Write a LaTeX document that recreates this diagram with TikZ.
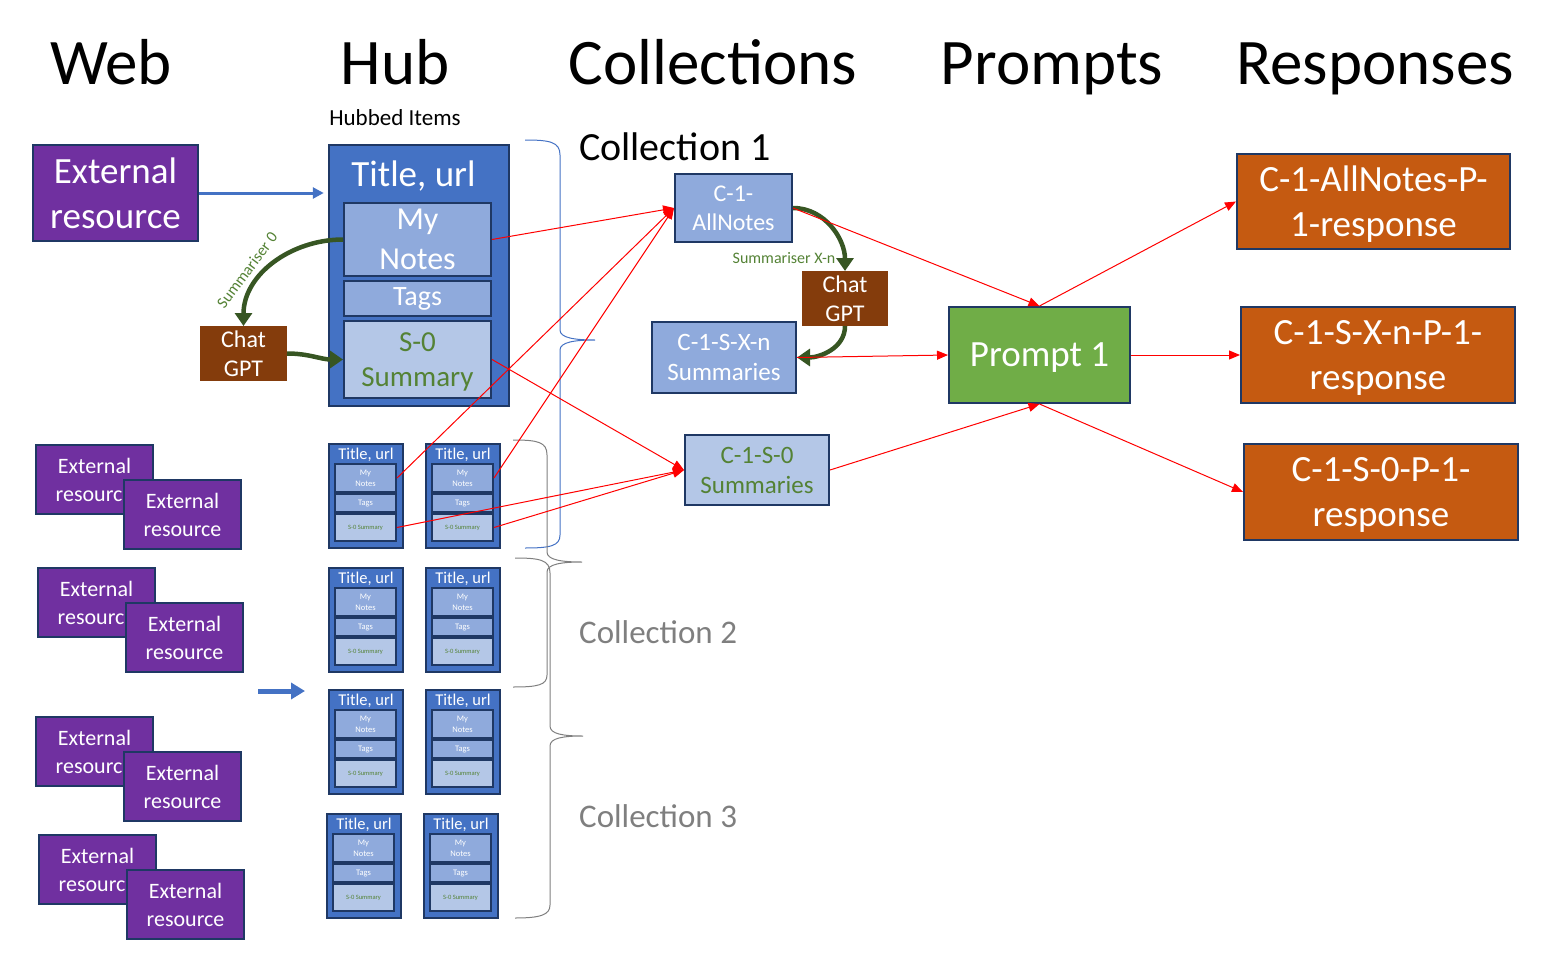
\documentclass[tikz,border=0pt]{standalone}
\usepackage{fontspec}
\setmainfont{Carlito}
\usetikzlibrary{arrows.meta}

\definecolor{extpurple}{HTML}{7030A0}
\definecolor{edgenavy}{HTML}{1F3864}
\definecolor{hubblue}{HTML}{4472C4}
\definecolor{notesblue}{HTML}{8FAADC}
\definecolor{sumblue}{HTML}{B4C7E7}
\definecolor{sumgreen}{HTML}{548235}
\definecolor{gptgreen}{HTML}{375623}
\definecolor{gptbrown}{HTML}{843C0C}
\definecolor{promptgreen}{HTML}{70AD47}
\definecolor{resporange}{HTML}{C55A11}
\definecolor{collgrey}{HTML}{7F7F7F}

\tikzset{
  box/.style={draw=edgenavy, line width=2pt, inner sep=0pt, align=center, text=white},
  heading/.style={font=\fontsize{65}{78}\selectfont, anchor=base},
  extbox/.style={box, fill=extpurple, minimum width=165, minimum height=96,
    font=\fontsize{37}{45}\selectfont},
  extsmall/.style={box, fill=extpurple, minimum width=117, minimum height=69,
    font=\fontsize{22}{28}\selectfont},
  hubbox/.style={box, fill=hubblue, line width=2.5pt},
  notesbox/.style={box, fill=notesblue},
  sumbox/.style={box, fill=sumblue, text=sumgreen},
  gptbox/.style={box, draw=gptbrown, fill=gptbrown, font=\fontsize{24}{29}\selectfont},
  collbox/.style={box, font=\fontsize{25}{30}\selectfont},
  promptbox/.style={box, fill=promptgreen, text depth=0pt, font=\fontsize{37}{45}\selectfont},
  respbox/.style={box, fill=resporange, text depth=0pt, font=\fontsize{37}{45}\selectfont},
  minihub/.style={box, fill=hubblue, line width=2.5pt, minimum width=74, minimum height=104},
  mininotes/.style={box, fill=notesblue, minimum width=61, minimum height=28,
    font=\fontsize{8.5}{11}\selectfont},
  minitags/.style={box, fill=notesblue, minimum width=61, minimum height=18,
    font=\fontsize{8.5}{10}\selectfont},
  minisum/.style={box, fill=sumblue, text=sumgreen, minimum width=61, minimum height=27,
    font=\fontsize{6.5}{8}\selectfont},
  redline/.style={draw=red, line width=1pt, -{Triangle[length=11pt,width=9pt]}},
  gptarrow/.style={draw=gptgreen, line width=4.5pt, -{Triangle[length=13pt,width=17pt]}},
  bluearrow/.style={draw=hubblue, line width=3pt, -{Triangle[length=11pt,width=11pt]}},
  bracket/.style={line width=1pt}
}

\begin{document}
\begin{tikzpicture}[x=1pt,y=1pt]
  \useasboundingbox (0,0) rectangle (1557,-955);

  \node[heading] (web) at (111,-85) {Web};
  \node[heading] (hubhead) at (395,-85) {Hub};
  \node[heading] (collhead) at (713,-85) {Collections};
  \node[heading] (prompthead) at (1052,-85) {Prompts};
  \node[heading] (resphead) at (1375,-85) {Responses};
  \node[anchor=base, font=\fontsize{23}{28}\selectfont] (hubbed) at (395,-125) {Hubbed Items};

  % web side
  \node[extbox] (ext) at (115.5,-193) {External\\resource};
  \foreach \x/\y/\n in {36/445/1,38/568/2,36/717/3,39/835/4} {
    \node[extsmall] (ext\n-back) at (\x+58.5,-\y-34.5) {External\\resource};
    \node[extsmall] (ext\n-front) at (\x+146.5,-\y-69.5) {External\\resource};
  }

  % hub
  \node[hubbox, minimum width=180, minimum height=261] (hub) at (419,-275.5) {};
  \node[anchor=base, text=white, font=\fontsize{37}{45}\selectfont] (hubtitle) at (413.5,-186) {Title, url};
  \node[notesbox, minimum width=147, minimum height=73, font=\fontsize{32}{40}\selectfont]
    (notes) at (417.5,-239.5) {My\\Notes};
  \node[notesbox, minimum width=147, minimum height=35, font=\fontsize{28}{34}\selectfont]
    (tags) at (417.5,-298.5) {Tags};
  \node[sumbox, minimum width=147, minimum height=77, text depth=0pt, font=\fontsize{29}{35}\selectfont]
    (sum0) at (417.5,-359.5) {S-0\\Summary};
  \node[gptbox, minimum width=85, minimum height=53] (chat1) at (243.5,-353.5) {Chat\\GPT};

  \foreach \x/\y/\n in {329/444/a,426/444/b,329/568/c,426/568/d,329/690/e,426/690/f,327/814/g,424/814/h} {
    \node[minihub] (\n) at (\x+37,-\y-52) {};
    \node[text=white, font=\fontsize{16.5}{20}\selectfont] (\n-title) at (\x+37,-\y-10.5) {Title, url};
    \node[mininotes] (\n-notes) at (\x+36.5,-\y-34) {My\\Notes};
    \node[minitags] (\n-tags) at (\x+36.5,-\y-59) {Tags};
    \node[minisum] (\n-sum) at (\x+36.5,-\y-83.5) {S-0 Summary};
  }

  \coordinate (arrowfrom) at (258,-691);
  \coordinate (arrowto) at (305,-691);

  % collections
  \node[anchor=base west, inner sep=0pt, font=\fontsize{40}{48}\selectfont] (coll1) at (579,-160) {Collection 1};
  \node[anchor=base west, inner sep=0pt, text=collgrey, font=\fontsize{33}{40}\selectfont] (coll2) at (579,-643) {Collection 2};
  \node[anchor=base west, inner sep=0pt, text=collgrey, font=\fontsize{33}{40}\selectfont] (coll3) at (579,-827) {Collection 3};

  \node[collbox, fill=notesblue, minimum width=117, minimum height=68, font=\fontsize{24}{29}\selectfont]
    (allnotes) at (733.5,-208) {C-1-\\AllNotes};
  \node[gptbox, minimum width=84, minimum height=53] (chat2) at (845,-298.5) {Chat\\GPT};
  \node[collbox, fill=notesblue, minimum width=144, minimum height=71] (sxn) at (724,-357.5) {C-1-S-X-n\\Summaries};
  \node[collbox, fill=sumblue, text=sumgreen, minimum width=144, minimum height=70] (s0) at (757,-470) {C-1-S-0\\Summaries};

  % prompts and responses
  \node[promptbox, minimum width=181, minimum height=96] (prompt) at (1039.5,-355) {Prompt 1};
  \node[respbox, minimum width=273, minimum height=95] (r1) at (1373.5,-201.5) {C-1-AllNotes-P-\\1-response};
  \node[respbox, minimum width=274, minimum height=96] (r2) at (1378,-355) {C-1-S-X-n-P-1-\\response};
  \node[respbox, minimum width=274, minimum height=96] (r3) at (1381,-492) {C-1-S-0-P-1-\\response};

  % braces
  \draw[bracket, hubblue] (525,-140) .. controls (550,-140) and (560,-142) .. (560,-155) -- (560,-330)
    .. controls (560,-338) and (575,-340) .. (595,-340)
    .. controls (575,-340) and (560,-342) .. (560,-350) -- (560,-535)
    .. controls (560,-546) and (550,-548) .. (525,-548);
  \draw[bracket, collgrey] (513,-440) .. controls (538,-440) and (547,-442) .. (547,-455) -- (547,-552)
    .. controls (547,-560) and (562,-562) .. (582,-562)
    .. controls (562,-562) and (547,-564) .. (547,-572) -- (547,-675)
    .. controls (547,-685) and (538,-687) .. (513,-687);
  \draw[bracket, collgrey] (515,-558) .. controls (540,-558) and (550,-560) .. (550,-573) -- (550,-726)
    .. controls (550,-734) and (563,-736) .. (583,-736)
    .. controls (563,-736) and (550,-738) .. (550,-746) -- (550,-905)
    .. controls (550,-915) and (540,-918) .. (515,-918);

  % connectors
  \draw[bluearrow, shorten >=4pt] (ext.east) -- (ext.east -| hub.west);
  \draw[draw=hubblue, line width=5pt, -{Triangle[length=14pt,width=16pt]}] (arrowfrom) -- (arrowto);

  \draw[gptarrow] (notes.west) to[out=180, in=90] (chat1.north);
  \draw[gptarrow] (chat1.east) to[out=0, in=180] (sum0.west);
  \draw[gptarrow] (allnotes.east) to[out=0, in=90] (chat2.north);
  \draw[gptarrow] (chat2.south) to[out=-90, in=0] (sxn.east);
  \node[rotate=53, inner sep=0pt, text=sumgreen, font=\fontsize{16}{19}\selectfont] (summ0) at (247,-270) {Summariser 0};
  \node[inner sep=0pt, text=sumgreen, font=\fontsize{16}{19}\selectfont] (summxn) at (784,-258) {Summariser X-n};

  \draw[redline] (notes.east) -- (allnotes.west);
  \draw[redline] (a-notes.east) -- (allnotes.west);
  \draw[redline] (b-notes.east) -- (allnotes.west);
  \draw[redline] (sum0.east) -- (s0.west);
  \draw[redline] (a-sum.east) -- (s0.west);
  \draw[redline] (b-sum.east) -- (s0.west);
  \draw[redline] (allnotes.east) -- (prompt.north);
  \draw[redline] (sxn.east) -- (prompt.west);
  \draw[redline] (s0.east) -- (prompt.south);
  \draw[redline] (prompt.north) -- (r1.west);
  \draw[redline] (prompt.east) -- (r2.west);
  \draw[redline] (prompt.south) -- (r3.west);
\end{tikzpicture}
\end{document}
